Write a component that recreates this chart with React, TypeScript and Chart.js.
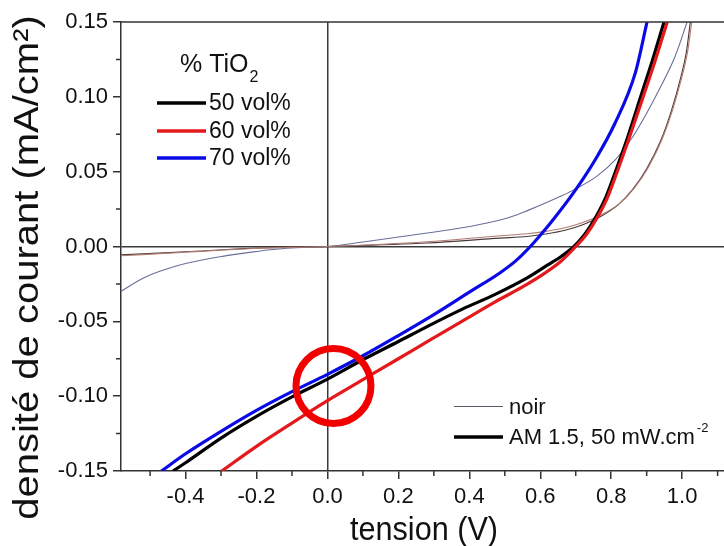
import React, { useEffect, useRef } from 'react';
import Chart from 'chart.js/auto';

const FONT = "'Liberation Sans', Arial, Helvetica, sans-serif";

// axes
const X_MIN = -0.582;
const X_MAX = 1.118;
const Y_MIN = -0.15;
const Y_MAX = 0.15;
const X_MAJOR = [-0.4, -0.2, 0.0, 0.2, 0.4, 0.6, 0.8, 1.0];
const X_MINOR = [-0.5, -0.3, -0.1, 0.1, 0.3, 0.5, 0.7, 0.9, 1.1];
const Y_MAJOR = [-0.15, -0.1, -0.05, 0.0, 0.05, 0.1, 0.15];
const Y_MINOR = [-0.125, -0.075, -0.025, 0.025, 0.075, 0.125];

// illuminated (AM 1.5) curves
const vRed = [-0.298, -0.2, -0.1, 0.0, 0.1, 0.2, 0.285, 0.379, 0.473, 0.55, 0.614, 0.66, 0.70, 0.73, 0.76, 0.79, 0.82, 0.85, 0.89, 0.925, 0.958];
const jRed = [-0.150, -0.1335, -0.118, -0.103, -0.089, -0.075, -0.063, -0.050, -0.037, -0.027, -0.0176, -0.0095, 0.0, 0.008, 0.019, 0.033, 0.052, 0.072, 0.100, 0.125, 0.150];

const vBlack = [-0.435, -0.4, -0.3, -0.2, -0.1, 0.0, 0.097, 0.2, 0.285, 0.379, 0.473, 0.563, 0.62, 0.66, 0.695, 0.725, 0.755, 0.785, 0.815, 0.845, 0.883, 0.917, 0.949];
const jBlack = [-0.150, -0.1445, -0.128, -0.1135, -0.1005, -0.0886, -0.076, -0.0635, -0.053, -0.042, -0.032, -0.021, -0.0125, -0.0065, 0.0, 0.008, 0.019, 0.033, 0.052, 0.072, 0.100, 0.125, 0.150];

const vBlue = [-0.468, -0.4, -0.3, -0.2, -0.1, 0.0, 0.1, 0.2, 0.3, 0.4, 0.487, 0.53, 0.572, 0.60, 0.63, 0.70, 0.76, 0.81, 0.868, 0.901];
const jBlue = [-0.150, -0.1385, -0.1235, -0.1095, -0.097, -0.0854, -0.073, -0.0595, -0.0455, -0.0305, -0.0175, -0.0098, 0.0, 0.0075, 0.016, 0.038, 0.060, 0.082, 0.116, 0.150];

// dark ("noir") curves
const vDark50 = [-0.582, -0.40, -0.209, 0.0, 0.281, 0.487, 0.563, 0.62, 0.67, 0.72, 0.77, 0.82, 0.86, 0.90, 0.94, 0.97, 0.995, 1.012, 1.023];
const jDark50 = [-0.0056, -0.0035, -0.0012, 0.0, 0.0023, 0.0056, 0.0067, 0.0085, 0.0108, 0.0145, 0.020, 0.028, 0.038, 0.052, 0.071, 0.091, 0.112, 0.130, 0.150];

const vDark60 = [-0.582, -0.40, -0.209, 0.0, 0.281, 0.487, 0.563, 0.62, 0.67, 0.72, 0.775, 0.825, 0.865, 0.905, 0.944, 0.974, 0.999, 1.016, 1.027];
const jDark60 = [-0.0062, -0.0038, -0.0013, 0.0, 0.0032, 0.0072, 0.0085, 0.0103, 0.0125, 0.016, 0.0215, 0.029, 0.039, 0.053, 0.072, 0.092, 0.113, 0.131, 0.150];

const vDark70 = [-0.582, -0.55, -0.52, -0.49, -0.44, -0.397, -0.35, -0.303, -0.25, -0.209, -0.16, -0.115, -0.06, 0.0, 0.1, 0.2, 0.281, 0.38, 0.469, 0.52, 0.567, 0.61, 0.657, 0.7, 0.76, 0.812, 0.86, 0.9, 0.94, 0.98, 1.014];
const jDark70 = [-0.030, -0.0252, -0.0212, -0.018, -0.014, -0.0112, -0.0088, -0.0068, -0.0049, -0.0036, -0.0022, -0.0012, -0.0004, 0.0, 0.003, 0.0063, 0.009, 0.0125, 0.0167, 0.020, 0.0243, 0.0285, 0.0335, 0.0385, 0.047, 0.058, 0.073, 0.089, 0.107, 0.127, 0.150];

// legend / annotation
const LEGEND_TITLE = '% TiO';
const LEGEND_TITLE_SUB = '2';
const SERIES_LABELS = ['50 vol%', '60 vol%', '70 vol%'];
const SERIES_COLORS = ['#000000', '#e3191b', '#0a0ae6'];
const MODE_LABELS = ['noir', 'AM 1.5, 50 mW.cm'];
const MODE_SUP = '-2';
const CIRCLE_X = 0.017;
const CIRCLE_Y = -0.0932;
const X_TITLE = 'tension (V)';
const Y_TITLE = 'densité de courant (mA/cm²)';

const pts = (xs: number[], ys: number[]) => xs.map((x, i) => ({ x, y: ys[i] }));

const overlay = {
  id: 'overlay',
  afterDraw(chart: any) {
    const ctx = chart.ctx as CanvasRenderingContext2D;
    const { left, right, top, bottom } = chart.chartArea;
    const xs = chart.scales.x;
    const ys = chart.scales.y;
    ctx.save();
    // top frame line
    ctx.strokeStyle = '#333';
    ctx.lineWidth = 1.5;
    ctx.beginPath();
    ctx.moveTo(left, top);
    ctx.lineTo(right, top);
    ctx.stroke();
    // minor ticks
    ctx.beginPath();
    X_MINOR.forEach((v) => {
      const p = xs.getPixelForValue(v);
      ctx.moveTo(p, bottom);
      ctx.lineTo(p, bottom + 5);
    });
    Y_MINOR.forEach((v) => {
      const p = ys.getPixelForValue(v);
      ctx.moveTo(left, p);
      ctx.lineTo(left - 5, p);
    });
    ctx.stroke();

    // red circle
    ctx.strokeStyle = '#f20000';
    ctx.lineWidth = 7;
    ctx.beginPath();
    ctx.arc(xs.getPixelForValue(CIRCLE_X), ys.getPixelForValue(CIRCLE_Y), 37.5, 0, Math.PI * 2);
    ctx.stroke();

    // legend 1
    ctx.fillStyle = '#111';
    ctx.textBaseline = 'alphabetic';
    ctx.textAlign = 'left';
    ctx.font = `25px ${FONT}`;
    ctx.fillText(LEGEND_TITLE, 180, 72);
    const tw = ctx.measureText(LEGEND_TITLE).width;
    ctx.font = `16px ${FONT}`;
    ctx.fillText(LEGEND_TITLE_SUB, 180 + tw + 1, 82);
    const ly = [103, 131, 158];
    SERIES_LABELS.forEach((lab, i) => {
      ctx.strokeStyle = SERIES_COLORS[i];
      ctx.lineWidth = 3.5;
      ctx.beginPath();
      ctx.moveTo(157, ly[i]);
      ctx.lineTo(206, ly[i]);
      ctx.stroke();
      ctx.fillStyle = '#111';
      ctx.font = `23px ${FONT}`;
      ctx.textBaseline = 'middle';
      ctx.fillText(lab, 209, ly[i] + 1);
    });

    // legend 2
    const my = [406.5, 437];
    const mw = [1, 3.5];
    MODE_LABELS.forEach((lab, i) => {
      ctx.strokeStyle = i === 0 ? '#5a5a6a' : '#000';
      ctx.lineWidth = mw[i];
      ctx.beginPath();
      ctx.moveTo(454, my[i]);
      ctx.lineTo(503, my[i]);
      ctx.stroke();
      ctx.fillStyle = '#111';
      ctx.font = `22px ${FONT}`;
      ctx.textBaseline = 'middle';
      ctx.fillText(lab, 509, my[i] + 1);
      if (i === 1) {
        const w = ctx.measureText(lab).width;
        ctx.font = `13px ${FONT}`;
        ctx.fillText(MODE_SUP, 509 + w + 2, my[i] - 9);
      }
    });

    // axis titles
    ctx.fillStyle = '#111';
    ctx.textBaseline = 'alphabetic';
    ctx.textAlign = 'center';
    ctx.save();
    ctx.translate(424, 540);
    ctx.scale(0.9, 1);
    ctx.font = `34px ${FONT}`;
    ctx.fillText(X_TITLE, 0, 0);
    ctx.restore();
    ctx.save();
    ctx.translate(38, 267.5);
    ctx.rotate(-Math.PI / 2);
    ctx.scale(1, 0.87);
    ctx.font = `40px ${FONT}`;
    ctx.fillText(Y_TITLE, 0, 0);
    ctx.restore();
    ctx.restore();
  },
};

const axisCommon = {
  grid: {
    drawOnChartArea: true,
    color: (c: any) => (c.tick && Math.abs(c.tick.value) < 1e-9 ? '#3a3a3a' : 'rgba(0,0,0,0)'),
    tickColor: '#333',
    tickLength: 8,
    lineWidth: 1.5,
  },
  border: { display: true, color: '#333', width: 1.5 },
};

export default function App() {
  const ref = useRef<HTMLCanvasElement>(null);
  useEffect(() => {
    const line = (label: string, xs: number[], ys: number[], color: string, width: number) => ({
      label,
      data: pts(xs, ys),
      borderColor: color,
      borderWidth: width,
      pointRadius: 0,
      fill: false,
      cubicInterpolationMode: 'monotone' as const,
    });
    const chart = new Chart(ref.current!, {
      type: 'line',
      data: {
        datasets: [
          line('60 vol% AM1.5', vRed, jRed, SERIES_COLORS[1], 3.2),
          line('50 vol% AM1.5', vBlack, jBlack, SERIES_COLORS[0], 3.2),
          line('70 vol% AM1.5', vBlue, jBlue, SERIES_COLORS[2], 3.2),
          line('60 vol% noir', vDark60, jDark60, '#b07a70', 1.1),
          line('50 vol% noir', vDark50, jDark50, '#4a3a3a', 1.1),
          line('70 vol% noir', vDark70, jDark70, '#6a6f9a', 1.1),
        ],
      },
      options: {
        responsive: false,
        devicePixelRatio: 1,
        animation: false,
        layout: { padding: { top: 22, left: 0, right: 0, bottom: 0 } },
        plugins: { legend: { display: false }, tooltip: { enabled: false } },
        scales: {
          x: {
            type: 'linear',
            min: X_MIN,
            max: X_MAX,
            afterBuildTicks: (s: any) => {
              s.ticks = X_MAJOR.map((v) => ({ value: v }));
            },
            afterFit: (s: any) => {
              s.height = 75;
            },
            ticks: {
              callback: (v: any) => Number(v).toFixed(1),
              font: { family: FONT, size: 22 },
              color: '#111',
              padding: 5,
              maxRotation: 0,
              autoSkip: false,
            },
            ...axisCommon,
          },
          y: {
            type: 'linear',
            min: Y_MIN,
            max: Y_MAX,
            afterBuildTicks: (s: any) => {
              s.ticks = Y_MAJOR.map((v) => ({ value: v }));
            },
            afterFit: (s: any) => {
              s.width = 121;
            },
            ticks: {
              callback: (v: any) => Number(v).toFixed(2),
              font: { family: FONT, size: 22 },
              color: '#111',
              padding: 5,
              autoSkip: false,
            },
            ...axisCommon,
          },
        },
      } as any,
      plugins: [overlay],
    });
    return () => chart.destroy();
  }, []);
  return (
    <div style={{ position: 'fixed', left: 0, top: 0, width: 724, height: 546, background: '#fff', overflow: 'hidden' }}>
      <canvas ref={ref} width={724} height={546} style={{ display: 'block', width: 724, height: 546 }} />
    </div>
  );
}
